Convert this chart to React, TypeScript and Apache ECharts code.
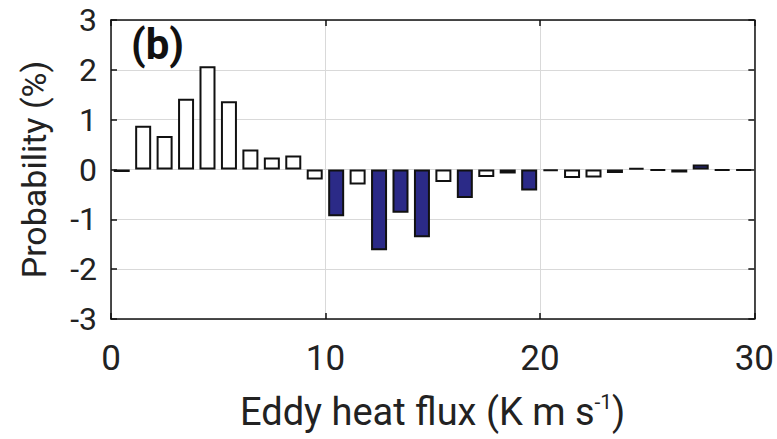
import React, { useEffect, useRef } from "react";
import * as echarts from "echarts";

const binCenters = [
  0.5, 1.5, 2.5, 3.5, 4.5, 5.5, 6.5, 7.5, 8.5, 9.5,
  10.5, 11.5, 12.5, 13.5, 14.5, 15.5, 16.5, 17.5, 18.5, 19.5,
  20.5, 21.5, 22.5, 23.5, 24.5, 25.5, 26.5, 27.5, 28.5, 29.5,
];
const probDiff = [
  -0.05, 0.88, 0.67, 1.42, 2.07, 1.37, 0.4, 0.24, 0.28, -0.2,
  -0.94, -0.3, -1.62, -0.87, -1.36, -0.25, -0.57, -0.15, -0.08, -0.42,
  -0.03, -0.17, -0.16, -0.07, 0.03, -0.02, -0.06, 0.1, -0.02, -0.02,
];
const significant = [
  1, 0, 0, 0, 0, 0, 0, 0, 0, 0,
  1, 0, 1, 1, 1, 0, 1, 0, 1, 1,
  1, 0, 0, 1, 1, 1, 1, 1, 1, 1,
];
const xTicks = [0, 10, 20, 30];
const yTicks = [-3, -2, -1, 0, 1, 2, 3];

const FONT = "Roboto, 'Noto Sans', sans-serif";
const BLUE = "#2b2a87";
const INK = "#222";

const boxAxisLine = { show: true, onZero: false, lineStyle: { color: "#111", width: 1.5 } };
const boxTick = { show: true, inside: true, length: 6, lineStyle: { color: "#111", width: 1.5 } };

export default function App() {
  const ref = useRef<HTMLDivElement>(null);
  useEffect(() => {
    if (!ref.current) return;
    const chart = echarts.init(ref.current, undefined, { renderer: "svg" });
    const data = binCenters.map((x, i) => ({
      value: [x, probDiff[i]],
      itemStyle: { color: significant[i] ? BLUE : "#ffffff" },
    }));
    chart.setOption({
      animation: false,
      grid: {
        left: 111,
        right: 22,
        top: 20,
        bottom: 120,
        show: false,
      },
      xAxis: [
        {
          type: "value",
          min: xTicks[0],
          max: xTicks[xTicks.length - 1],
          interval: 10,
          position: "bottom",
          axisLine: boxAxisLine,
          axisTick: boxTick,
          splitLine: { show: true, lineStyle: { color: "#d9d9d9", width: 1 } },
          axisLabel: { color: INK, fontSize: 35, fontFamily: FONT, margin: 22 },
          name: "Eddy heat flux (K m s{sup|-1})",
          nameLocation: "middle",
          nameGap: 72,
          nameTextStyle: {
            color: INK,
            fontSize: 38,
            fontFamily: FONT,
            rich: {
              sup: { fontSize: 21, fontFamily: FONT, color: INK, verticalAlign: "top", padding: [0, 0, 20, 0] },
            },
          },
        },
        {
          type: "value",
          min: xTicks[0],
          max: xTicks[xTicks.length - 1],
          interval: 10,
          position: "top",
          axisLine: boxAxisLine,
          axisTick: boxTick,
          splitLine: { show: false },
          axisLabel: { show: false },
        },
      ],
      yAxis: [
        {
          type: "value",
          min: yTicks[0],
          max: yTicks[yTicks.length - 1],
          interval: 1,
          position: "left",
          axisLine: boxAxisLine,
          axisTick: boxTick,
          splitLine: { show: true, lineStyle: { color: "#d9d9d9", width: 1 } },
          axisLabel: { color: INK, fontSize: 32, fontFamily: FONT, margin: 14 },
          name: "Probability (%)",
          nameLocation: "middle",
          nameGap: 60,
          nameTextStyle: { color: INK, fontSize: 34, fontFamily: FONT },
        },
        {
          type: "value",
          min: yTicks[0],
          max: yTicks[yTicks.length - 1],
          interval: 1,
          position: "right",
          axisLine: boxAxisLine,
          axisTick: boxTick,
          splitLine: { show: false },
          axisLabel: { show: false },
        },
      ],
      graphic: [
        {
          type: "text",
          left: 131,
          top: 23,
          style: { text: "(b)", font: `bold 42px ${FONT}`, fill: "#111" },
        },
      ],
      series: [
        {
          type: "bar",
          xAxisIndex: 0,
          yAxisIndex: 0,
          barWidth: 16,
          data,
          itemStyle: { borderColor: "#111", borderWidth: 2 },
        },
      ],
    });
    return () => chart.dispose();
  }, []);
  return (
    <div
      ref={ref}
      style={{ position: "absolute", left: 0, top: 0, width: 777, height: 439 }}
    />
  );
}
